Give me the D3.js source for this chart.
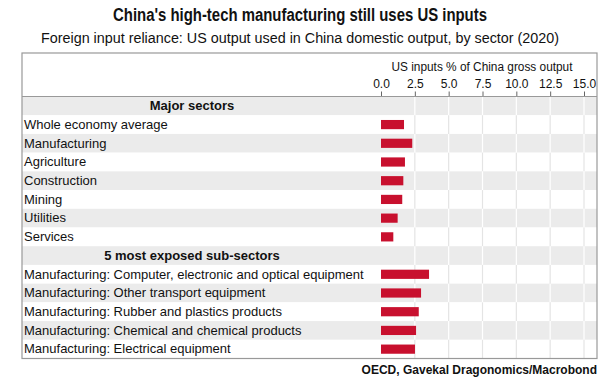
<!DOCTYPE html>
<html>
<head>
<meta charset="utf-8">
<script src="https://cdn.jsdelivr.net/npm/d3@7"></script>
<style>
  body { margin: 0; background: #fff; }
  text { font-family: "Liberation Sans", Arial, sans-serif; fill: #111; }
</style>
</head>
<body>
<svg width="602" height="377"></svg>
<script>

var labels = ["Major sectors", "Whole economy average", "Manufacturing", "Agriculture",
  "Construction", "Mining", "Utilities", "Services", "5 most exposed sub-sectors",
  "Manufacturing: Computer, electronic and optical equipment",
  "Manufacturing: Other transport equipment",
  "Manufacturing: Rubber and plastics products",
  "Manufacturing: Chemical and chemical products",
  "Manufacturing: Electrical equipment"];
var values = [null, 1.70, 2.31, 1.77, 1.65, 1.57, 1.23, 0.91, null, 3.55, 2.96, 2.79, 2.59, 2.51];
var groupHeaders = ["Major sectors", "5 most exposed sub-sectors"];
var tickValues = [0, 2.5, 5, 7.5, 10, 12.5, 15];

var svg = d3.select("svg");

var boxL = 22, boxR = 597, boxT = 53, boxB = 358.5, rowsTop = 96.5;

var x = d3.scaleLinear().domain([0, 15]).range([381, 584]);
var y = d3.scaleBand().domain(labels).range([rowsTop, boxB]);

// titles (condensed a bit to match the narrow original face)
svg.append("text").attr("x", 300).attr("y", 21).attr("text-anchor", "middle")
  .style("font-size", "17.5px").style("font-weight", "bold")
  .attr("textLength", 374).attr("lengthAdjust", "spacingAndGlyphs")
  .text("China's high-tech manufacturing still uses US inputs");
svg.append("text").attr("x", 300).attr("y", 43).attr("text-anchor", "middle")
  .style("font-size", "14px")
  .attr("textLength", 518).attr("lengthAdjust", "spacingAndGlyphs")
  .text("Foreign input reliance: US output used in China domestic output, by sector (2020)");

// row stripes
svg.append("g").selectAll("rect").data(labels).join("rect")
  .attr("x", boxL).attr("width", boxR - boxL)
  .attr("y", function(d) { return y(d); }).attr("height", y.bandwidth())
  .attr("fill", function(d, i) { return i % 2 === 0 ? "#ebebeb" : "#fff"; });

// grid lines, white on the grey rows and light grey on the white ones
var grid = svg.append("g");
labels.forEach(function(d, i) {
  grid.selectAll(null).data(tickValues.slice(1)).join("line")
    .attr("x1", function(t) { return x(t); }).attr("x2", function(t) { return x(t); })
    .attr("y1", y(d)).attr("y2", y(d) + y.bandwidth())
    .attr("stroke", i % 2 === 0 ? "#fff" : "#e4e4e4").attr("stroke-width", 1.2);
});

// bars
svg.append("g").selectAll("rect").data(labels.filter(function(d, i) { return values[i] != null; }))
  .join("rect")
  .attr("x", x(0))
  .attr("y", function(d) { return y(d) + y.bandwidth() / 2 - 4.6; })
  .attr("height", 9.2)
  .attr("width", function(d) { return x(values[labels.indexOf(d)]) - x(0); })
  .attr("fill", "#c8102e");

// row labels
svg.append("g").selectAll("text").data(labels).join("text")
  .attr("x", function(d) { return groupHeaders.indexOf(d) > -1 ? 192 : 24; })
  .attr("y", function(d) { return y(d) + y.bandwidth() / 2 + 4.3; })
  .attr("text-anchor", function(d) { return groupHeaders.indexOf(d) > -1 ? "middle" : "start"; })
  .style("font-weight", function(d) { return groupHeaders.indexOf(d) > -1 ? "bold" : "normal"; })
  .style("font-size", "13px")
  .text(function(d) { return d; });

// axis
var axis = svg.append("g").attr("transform", "translate(0," + rowsTop + ")")
  .call(d3.axisTop(x).tickValues(tickValues).tickFormat(d3.format(".1f")).tickSize(5).tickPadding(4));
axis.select(".domain").remove();
axis.selectAll("line").attr("stroke", "#666");
axis.selectAll("text").style("font-size", "12px").attr("fill", "#111");

svg.append("text").attr("x", 482).attr("y", 71).attr("text-anchor", "middle")
  .style("font-size", "12.5px")
  .attr("textLength", 181).attr("lengthAdjust", "spacingAndGlyphs")
  .text("US inputs % of China gross output");

// frame
svg.append("rect").attr("x", boxL).attr("y", boxT).attr("width", boxR - boxL).attr("height", boxB - boxT)
  .attr("fill", "none").attr("stroke", "#999").attr("stroke-width", 1.2);
svg.append("line").attr("x1", boxL).attr("x2", boxR).attr("y1", rowsTop).attr("y2", rowsTop)
  .attr("stroke", "#999").attr("stroke-width", 1.2);

svg.append("text").attr("x", 597).attr("y", 374).attr("text-anchor", "end")
  .style("font-size", "12px").style("font-weight", "bold")
  .text("OECD, Gavekal Dragonomics/Macrobond");

</script>
</body>
</html>
